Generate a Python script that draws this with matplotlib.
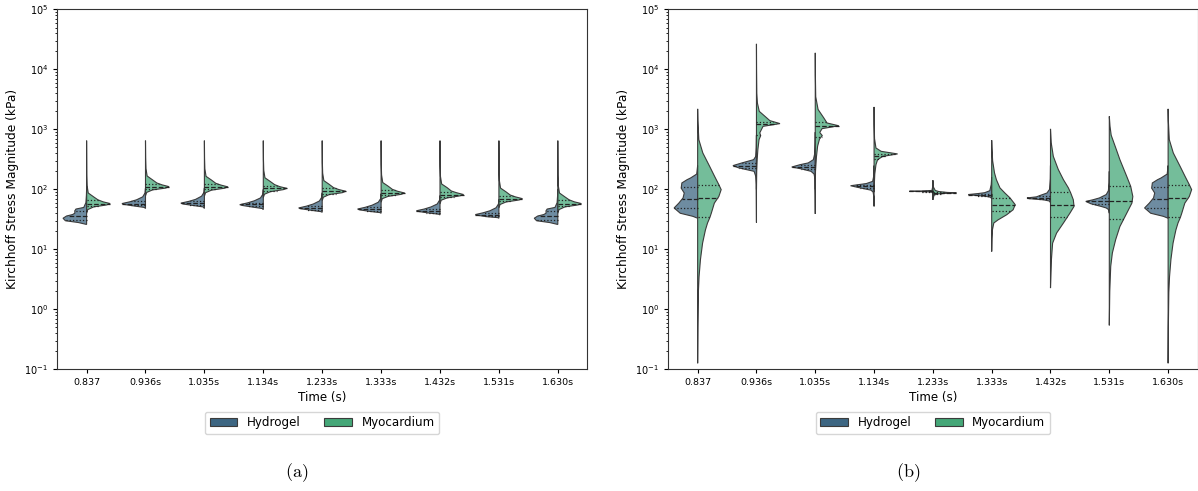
import numpy as np
import matplotlib
matplotlib.use("Agg")
import matplotlib.pyplot as plt
from matplotlib.patches import Polygon, Patch
from matplotlib.colors import to_rgba

plt.rcParams['mathtext.fontset'] = 'dejavusans'

times = ["0.837", "0.936s", "1.035s", "1.134s", "1.233s", "1.333s", "1.432s", "1.531s", "1.630s"]
materials = ["Hydrogel", "Myocardium"]

# --- panel (a): stress levels (kPa) and relative density of each half violin
a_hyd_kpa = [
    [26, 28, 30, 33, 36, 38, 40, 44, 47, 50, 60, 80, 100],
    [48, 50, 53, 56, 58, 62, 67, 75, 87, 105],
    [48, 51, 54, 57, 59, 63, 68, 77, 89, 106],
    [46, 48, 51, 54, 55.6, 59.5, 64.5, 72, 83, 100],
    [41.5, 42.5, 45, 47.5, 49, 52.5, 57, 64, 74, 88],
    [40, 41, 43, 45.5, 47, 50.3, 54.5, 61, 70, 85],
    [37.5, 38.5, 40.5, 42.7, 44, 47, 51, 57, 66, 79],
    [33, 33.8, 35, 36.9, 38, 40.7, 44, 49.4, 57, 68],
    [26, 28, 30, 33, 36, 38, 40, 44, 47, 50, 60, 80, 100],
]
a_hyd_dens = [
    [0, 0.35, 0.9, 1.0, 0.85, 0.6, 0.5, 0.5, 0.45, 0.12, 0.03, 0.008, 0],
    [0, 0.05, 0.5, 0.9, 1.0, 0.67, 0.38, 0.12, 0.02, 0],
    [0, 0.05, 0.5, 0.9, 1.0, 0.67, 0.38, 0.12, 0.02, 0],
    [0, 0.05, 0.5, 0.9, 1.0, 0.67, 0.38, 0.12, 0.02, 0],
    [0, 0.05, 0.5, 0.9, 1.0, 0.67, 0.38, 0.12, 0.02, 0],
    [0, 0.05, 0.5, 0.9, 1.0, 0.67, 0.38, 0.12, 0.02, 0],
    [0, 0.05, 0.5, 0.9, 1.0, 0.67, 0.38, 0.12, 0.02, 0],
    [0, 0.05, 0.5, 0.9, 1.0, 0.67, 0.38, 0.12, 0.02, 0],
    [0, 0.35, 0.9, 1.0, 0.85, 0.6, 0.5, 0.5, 0.45, 0.12, 0.03, 0.008, 0],
]
a_hyd_quart = [(31, 36, 43), (54, 58, 63), (55, 59, 64), (52, 56, 60), (46, 49, 53),
               (44, 47, 51), (41, 44, 47.5), (35.5, 38, 41), (31, 36, 43)]

a_myo_kpa = [
    [40, 46, 51, 55, 58, 62, 67, 75, 87, 116, 174, 650],
    [78, 89, 98, 105, 111, 119, 128, 144, 167, 222, 333, 650],
    [77, 88, 97, 104.5, 110, 118, 126.5, 143, 165, 220, 330, 650],
    [73, 83, 91.5, 99, 104, 111, 120, 135, 156, 208, 312, 650],
    [65, 74, 82, 88, 93, 99.5, 107, 121, 140, 186, 279, 650],
    [61, 70, 76.5, 82.6, 87, 93, 100, 113, 130, 174, 261, 650],
    [57, 66, 72, 78, 82, 88, 94, 107, 123, 164, 246, 650],
    [49, 56, 61.6, 66.5, 70, 75, 80.5, 91, 105, 140, 210, 650],
    [40, 46, 51, 55, 58, 62, 67, 75, 87, 116, 174, 650],
]
a_myo_dens = [[0, 0.05, 0.3, 0.85, 1.0, 0.7, 0.48, 0.3, 0.07, 0.02, 0.007, 0]] * 9
a_myo_quart = [(53, 58, 66), (101, 111, 124), (100, 110, 123), (95, 104, 116), (85, 93, 104),
               (80, 87, 97), (75, 82, 92), (64, 70, 78), (53, 58, 66)]

# --- panel (b)
b_hyd_kpa = [
    [33, 35.5, 40, 49, 59, 72, 87, 105, 128, 145, 155, 180, 250],
    [28, 60, 120, 165, 200, 228, 249, 276, 313, 355, 500, 800],
    [39, 80, 150, 180, 200, 220, 236, 258, 276, 313, 400, 600, 900],
    [52, 75, 90, 97, 106, 115, 125, 136, 170, 250],
    [67, 85, 90, 92, 93, 94, 96, 110, 141],
    [70, 74, 77, 80, 82, 85, 88, 95, 120, 160],
    [60, 64, 67, 70, 72, 75, 79, 87, 100, 150, 250],
    [40, 46, 49, 52, 57.5, 63, 67, 72, 82, 95, 130, 200],
    [33, 35.5, 40, 49, 59, 72, 87, 105, 128, 145, 155, 180, 250],
]
b_hyd_dens = [
    [0, 0.2, 0.74, 1.0, 0.8, 0.62, 0.57, 0.7, 0.67, 0.45, 0.3, 0.04, 0],
    [0, 0.005, 0.01, 0.03, 0.1, 0.75, 1.0, 0.62, 0.12, 0.03, 0.008, 0],
    [0, 0.005, 0.015, 0.05, 0.18, 0.6, 1.0, 0.65, 0.3, 0.08, 0.02, 0.005, 0],
    [0, 0.01, 0.04, 0.13, 0.6, 1.0, 0.33, 0.06, 0.01, 0],
    [0, 0.01, 0.04, 0.5, 1.0, 0.5, 0.04, 0.01, 0],
    [0, 0.05, 0.3, 0.8, 1.0, 0.6, 0.3, 0.08, 0.02, 0],
    [0, 0.05, 0.3, 0.9, 1.0, 0.6, 0.45, 0.15, 0.04, 0.008, 0],
    [0, 0.03, 0.13, 0.35, 0.78, 1.0, 0.7, 0.42, 0.13, 0.04, 0.008, 0],
    [0, 0.2, 0.74, 1.0, 0.8, 0.62, 0.57, 0.7, 0.67, 0.45, 0.3, 0.04, 0],
]
b_hyd_quart = [(49, 69, 108), (228, 249, 276), (220, 237, 255), (106, 112, 118), (92, 93, 94),
               (79, 82, 85), (68, 72, 77), (57, 63, 72), (49, 69, 108)]

b_myo_kpa = [
    [0.126, 0.5, 1.9, 3.5, 6.8, 12.7, 21, 27.5, 34, 40, 59, 76, 99, 120, 165, 242, 405, 676, 1400, 2200],
    [100, 200, 313, 460, 676, 787, 875, 993, 1125, 1250, 1400, 1655, 2000, 2760, 4000, 10000, 26700],
    [100, 200, 350, 525, 690, 787, 890, 1030, 1150, 1280, 1560, 2150, 3500, 8000, 18900],
    [90, 120, 180, 258, 313, 355, 390, 431, 490, 700, 1200, 2370],
    [67, 80, 84, 86, 87.5, 89, 92, 96, 110, 141],
    [9.2, 15, 21, 27.5, 31, 37.8, 45.7, 55.6, 72, 87, 106, 145, 188, 300, 500, 660],
    [2.26, 4, 6.8, 12.7, 18.7, 27.5, 40.4, 52, 67, 87, 106, 145, 215, 355, 600, 1020],
    [0.54, 2, 5.2, 8.7, 14.5, 24, 40, 59, 76, 112, 165, 313, 460, 800, 1125, 1650],
    [0.126, 0.5, 1.9, 3.5, 6.8, 12.7, 21, 27.5, 34, 40, 59, 76, 99, 120, 165, 242, 405, 676, 1400, 2200],
]
b_myo_dens = [
    [0, 0.01, 0.03, 0.06, 0.12, 0.21, 0.33, 0.42, 0.52, 0.58, 0.71, 0.9, 1.0, 0.9, 0.72, 0.51, 0.22, 0.05, 0.01, 0],
    [0, 0.01, 0.03, 0.06, 0.11, 0.18, 0.14, 0.21, 0.28, 1.0, 0.57, 0.36, 0.12, 0.04, 0.015, 0.005, 0],
    [0, 0.01, 0.05, 0.1, 0.18, 0.3, 0.19, 0.29, 1.0, 0.5, 0.36, 0.12, 0.02, 0.005, 0],
    [0, 0.01, 0.03, 0.08, 0.15, 0.37, 1.0, 0.3, 0.08, 0.02, 0.005, 0],
    [0, 0.05, 0.2, 0.6, 1.0, 0.6, 0.25, 0.1, 0.02, 0],
    [0, 0.01, 0.03, 0.09, 0.27, 0.64, 0.91, 1.0, 0.78, 0.56, 0.35, 0.2, 0.12, 0.04, 0.01, 0],
    [0, 0.02, 0.04, 0.09, 0.26, 0.55, 0.83, 1.0, 0.97, 0.86, 0.76, 0.55, 0.33, 0.12, 0.03, 0],
    [0, 0.02, 0.06, 0.13, 0.27, 0.45, 0.74, 0.96, 1.0, 0.91, 0.74, 0.45, 0.3, 0.08, 0.03, 0],
    [0, 0.01, 0.03, 0.06, 0.12, 0.21, 0.33, 0.42, 0.52, 0.58, 0.71, 0.9, 1.0, 0.9, 0.72, 0.51, 0.22, 0.05, 0.01, 0],
]
b_myo_quart = [(34, 72, 120), (810, 1220, 1350), (760, 1150, 1330), (320, 365, 395), (85, 87.5, 90),
               (43, 55, 72), (34, 55, 89), (32, 63, 115), (34, 72, 120)]

colors = ['#3d6682', '#45a778']   # viridis, desaturated
EDGE = '#3b3b3b'
HALF_W = 0.4
FILL_ALPHA = 0.75


def draw_half(ax, pos, kpa, dens, quart, side, color):
    y = np.asarray(kpa, float)
    w = np.asarray(dens, float) * HALF_W
    xs = np.r_[pos, pos + side * w, pos]
    ys = np.r_[y[0], y, y[-1]]
    poly = Polygon(np.c_[xs, ys], closed=True, facecolor=to_rgba(color, FILL_ALPHA),
                   edgecolor=EDGE, linewidth=0.8, zorder=2)
    ax.add_patch(poly)
    # quartile lines, median dashed
    for q, ls in zip(quart, [':', '--', ':']):
        wq = np.interp(np.log10(q), np.log10(y), w)
        ax.plot([pos, pos + side * wq], [q, q], color='#222222', lw=0.9, ls=ls, zorder=3)


def draw_panel(ax, hyd_kpa, hyd_dens, hyd_q, myo_kpa, myo_dens, myo_q):
    for i in range(len(times)):
        draw_half(ax, i, hyd_kpa[i], hyd_dens[i], hyd_q[i], -1, colors[0])
        draw_half(ax, i, myo_kpa[i], myo_dens[i], myo_q[i], 1, colors[1])
    ax.set_yscale('log')
    ax.set_ylim(1e-1, 1e5)
    ax.set_xlim(-0.5, len(times) - 0.5)
    ax.set_xticks(range(len(times)))
    ax.set_xticklabels(times)
    ax.tick_params(axis='x', labelsize=6.8, length=3, width=0.8)
    ax.tick_params(axis='y', which='major', labelsize=7, length=3, width=0.8)
    ax.tick_params(axis='y', which='minor', length=1.8, width=0.6)
    for s in ax.spines.values():
        s.set_color('#333333')
        s.set_linewidth(0.8)
    ax.set_xlabel('Time (s)', fontsize=8.6, labelpad=3)
    ax.set_ylabel('Kirchhoff Stress Magnitude (kPa)', fontsize=8.8, labelpad=4)
    handles = [Patch(facecolor=c, edgecolor=EDGE, linewidth=0.8, label=m) for c, m in zip(colors, materials)]
    ax.legend(handles=handles, loc='center', bbox_to_anchor=(0.5, -0.149), ncol=2,
              fontsize=8.6, handlelength=2.3, frameon=True)


fig = plt.figure(figsize=(11.98, 4.91), dpi=100)
ax_a = fig.add_axes([0.0477, 0.2479, 0.4425, 0.7328])
ax_b = fig.add_axes([0.5578, 0.2479, 0.4418, 0.7328])

draw_panel(ax_a, a_hyd_kpa, a_hyd_dens, a_hyd_quart, a_myo_kpa, a_myo_dens, a_myo_quart)
draw_panel(ax_b, b_hyd_kpa, b_hyd_dens, b_hyd_quart, b_myo_kpa, b_myo_dens, b_myo_quart)

# subfigure captions
fig.text(297 / 1198, 1 - 473 / 491, r'$\mathrm{(a)}$', ha='center', va='center', fontsize=13,
         math_fontfamily='cm')
fig.text(908 / 1198, 1 - 473 / 491, r'$\mathrm{(b)}$', ha='center', va='center', fontsize=13,
         math_fontfamily='cm')

fig.savefig('out.png', dpi=100)
